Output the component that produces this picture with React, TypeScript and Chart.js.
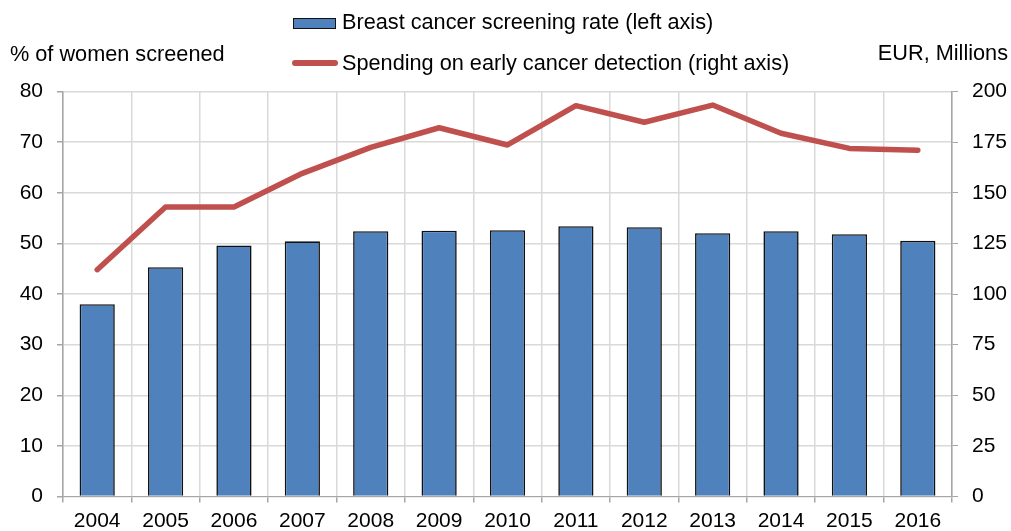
import React, { useEffect, useRef } from "react";
import { Chart, registerables } from "chart.js";

Chart.register(...registerables);

const categories = ["2004", "2005", "2006", "2007", "2008", "2009", "2010", "2011", "2012", "2013", "2014", "2015", "2016"];
const screeningRate = [38.0, 45.3, 49.6, 50.4, 52.4, 52.5, 52.6, 53.4, 53.2, 52.0, 52.4, 51.8, 50.5];
const spending = [112, 143, 143, 159.6, 172.4, 182.1, 173.6, 193.0, 184.8, 193.3, 179.4, 171.9, 171.0];
const leftTicks = [0, 10, 20, 30, 40, 50, 60, 70, 80];
const rightTicks = [0, 25, 50, 75, 100, 125, 150, 175, 200];

const barLabel = "Breast cancer screening rate (left axis)";
const lineLabel = "Spending on early cancer detection (right axis)";
const leftTitle = "% of women screened";
const rightTitle = "EUR, Millions";

const FONT = "'Liberation Sans', Arial, sans-serif";
const FS = 21;
const HFS = 21.7;
const BAR_COLOR = "#4f81bd";
const LINE_COLOR = "#c0504d";
const GRID = "#d9d9d9";
const AXIS = "#a6a6a6";

export default function App() {
  const ref = useRef<HTMLCanvasElement | null>(null);

  useEffect(() => {
    if (!ref.current) return;
    const chart = new Chart(ref.current, {
      type: "bar",
      data: {
        labels: categories,
        datasets: [
          {
            type: "line",
            label: lineLabel,
            data: spending,
            yAxisID: "y2",
            borderColor: LINE_COLOR,
            backgroundColor: LINE_COLOR,
            borderWidth: 5.5,
            pointRadius: 0,
            tension: 0,
            borderCapStyle: "round",
            borderJoinStyle: "round",
            order: 0,
          } as any,
          {
            type: "bar",
            label: barLabel,
            data: screeningRate,
            yAxisID: "y",
            backgroundColor: BAR_COLOR,
            borderColor: "#111",
            borderWidth: 1.6,
            barPercentage: 0.515,
            categoryPercentage: 1,
            order: 1,
          } as any,
        ],
      },
      options: {
        animation: false,
        responsive: false,
        devicePixelRatio: 1,
        layout: { padding: { top: 91.5, left: 0, right: 0, bottom: 0 } },
        plugins: { legend: { display: false }, tooltip: { enabled: false } },
        scales: {
          x: {
            offset: true,
            grid: { color: GRID, tickColor: AXIS, offset: true, tickLength: 6, lineWidth: 1.5 },
            border: { color: AXIS, width: 1 },
            ticks: { color: "#000", font: { family: FONT, size: FS }, padding: 6, maxRotation: 0 },
            afterFit: (s: any) => { s.height = 34.5; },
          },
          y: {
            position: "left",
            min: 0,
            max: 80,
            afterBuildTicks: (s: any) => { s.ticks = leftTicks.map((v) => ({ value: v })); },
            grid: { color: GRID, tickColor: AXIS, tickLength: 6, lineWidth: 1.5 },
            border: { color: AXIS, width: 1.5 },
            ticks: { color: "#000", font: { family: FONT, size: FS }, padding: 14 },
            afterFit: (s: any) => { s.width = 63; },
          },
          y2: {
            position: "right",
            min: 0,
            max: 200,
            afterBuildTicks: (s: any) => { s.ticks = rightTicks.map((v) => ({ value: v })); },
            grid: { drawOnChartArea: false, tickColor: AXIS, tickLength: 6 },
            border: { color: AXIS, width: 1.5 },
            ticks: { color: "#000", font: { family: FONT, size: FS }, padding: 14 },
            afterFit: (s: any) => { s.width = 59; },
          },
        },
      },
    });
    return () => chart.destroy();
  }, []);

  const textStyle: React.CSSProperties = {
    position: "absolute",
    fontFamily: FONT,
    fontSize: HFS,
    lineHeight: `${HFS}px`,
    color: "#000",
    whiteSpace: "nowrap",
  };

  return (
    <div style={{ position: "fixed", left: 0, top: 0, width: 1011, height: 531, background: "#fff" }}>
      <canvas ref={ref} width={1011} height={531} style={{ position: "absolute", left: 0, top: 0 }} />
      <div style={{ ...textStyle, left: 10, top: 43 }}>{leftTitle}</div>
      <div style={{ ...textStyle, right: 3, top: 42.3 }}>{rightTitle}</div>
      <div
        style={{
          position: "absolute",
          left: 293,
          top: 18,
          width: 43,
          height: 11,
          boxSizing: "border-box",
          background: BAR_COLOR,
          border: "1.5px solid #111",
        }}
      />
      <div style={{ ...textStyle, left: 342, top: 11.2 }}>{barLabel}</div>
      <div
        style={{
          position: "absolute",
          left: 292,
          top: 60.3,
          width: 46,
          height: 6,
          borderRadius: 3,
          background: LINE_COLOR,
        }}
      />
      <div style={{ ...textStyle, left: 342, top: 51.8 }}>{lineLabel}</div>
    </div>
  );
}
